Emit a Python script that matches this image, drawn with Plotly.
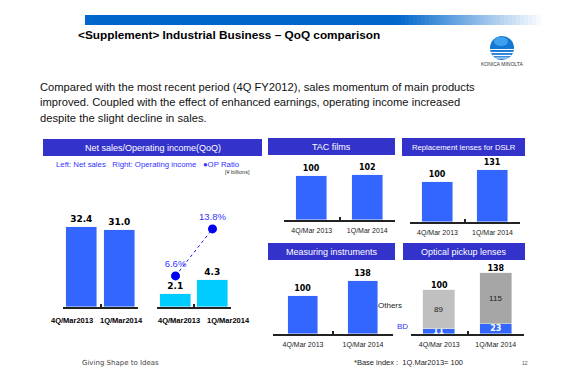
import plotly.graph_objects as go

W, H = 562, 390
def px(x): return x / W
def py(y): return 1 - y / H

# ---------------- data ----------------
periods_main = ["4Q/Mar2013", "1Q/Mar2014"]
periods = ["4Q/Mar 2013", "1Q/Mar 2014"]
net_sales = [32.4, 31.0]
op_income = [2.1, 4.3]
op_ratio = [6.6, 13.8]
tac_films = [100, 102]
dslr_lenses = [100, 131]
measuring = [100, 138]
optical_bd = [11, 23]
optical_others = [89, 115]
optical_total = [100, 138]

BLUE = "#3366ff"
CYAN = "#00ccff"
HEAD = "#3333cc"
SANS = "Liberation Sans"
BOLDF = "DejaVu Sans"

fig = go.Figure()

def lbl(vals, fmt="{:.0f}"):
    return [fmt.format(v) for v in vals]

# Net sales
fig.add_bar(x=periods_main, y=net_sales, xaxis="x", yaxis="y", marker_color=BLUE, width=0.83,
            text=lbl(net_sales, "{:.1f}"), textposition="outside", cliponaxis=False,
            textfont=dict(family=BOLDF, size=9, color="black", weight="bold"))
# Operating income
fig.add_bar(x=periods_main, y=op_income, xaxis="x2", yaxis="y2", marker_color=CYAN, width=0.84,
            text=lbl(op_income, "{:.1f}"), textposition="outside", cliponaxis=False,
            textfont=dict(family=BOLDF, size=9, color="black", weight="bold"))
# OP ratio
fig.add_scatter(x=periods_main, y=op_ratio, xaxis="x2", yaxis="y3", mode="lines+markers+text",
                line=dict(color="#1a1aee", width=1, dash="dot"),
                marker=dict(color="#0000ee", size=9),
                text=[f"{v:.1f}%" for v in op_ratio], textposition="top center",
                textfont=dict(family=SANS, size=9.5, color="#3333ff"), cliponaxis=False)
# TAC films
fig.add_bar(x=periods, y=tac_films, xaxis="x4", yaxis="y4", marker_color=BLUE, width=0.56,
            text=lbl(tac_films), textposition="outside", cliponaxis=False,
            textfont=dict(family=BOLDF, size=8, color="black", weight="bold"))
# DSLR
fig.add_bar(x=periods, y=dslr_lenses, xaxis="x5", yaxis="y5", marker_color=BLUE, width=0.56,
            text=lbl(dslr_lenses), textposition="outside", cliponaxis=False,
            textfont=dict(family=BOLDF, size=8, color="black", weight="bold"))
# Measuring
fig.add_bar(x=periods, y=measuring, xaxis="x6", yaxis="y6", marker_color=BLUE, width=0.51,
            text=lbl(measuring), textposition="outside", cliponaxis=False,
            textfont=dict(family=BOLDF, size=8, color="black", weight="bold"))
# Optical pickup (stacked)
fig.add_bar(x=periods, y=optical_bd, xaxis="x7", yaxis="y7", marker_color=BLUE, width=0.57,
            text=lbl(optical_bd), textposition="inside", insidetextanchor="middle",
            constraintext="none", cliponaxis=False,
            textfont=dict(family=BOLDF, size=8, color="white", weight="bold"))
fig.add_bar(x=periods, y=optical_others, xaxis="x7", yaxis="y7",
            marker_color=["#c0c0c0", "#a6a6a6"], width=0.57,
            text=lbl(optical_others), textposition="inside", insidetextanchor="middle",
            constraintext="none", cliponaxis=False,
            textfont=dict(family=SANS, size=8, color="#222222"))
fig.add_scatter(x=periods, y=optical_total, xaxis="x7", yaxis="y7", mode="text",
                text=lbl(optical_total), textposition="top center", cliponaxis=False,
                textfont=dict(family=BOLDF, size=8, color="black", weight="bold"))

# ---------------- axes ----------------
def xax(x0, x1, anchor, font, standoff, showlabels=True):
    return dict(domain=[px(x0), px(x1)], anchor=anchor, type="category", range=[-0.5, 1.5],
                showline=True, linecolor="#222222", linewidth=1.5, showgrid=False, zeroline=False,
                ticks="inside", tickson="boundaries", ticklen=3, tickwidth=1.5, tickcolor="#222222",
                tickangle=0, tickfont=font, ticklabelstandoff=standoff, fixedrange=True,
                showticklabels=showlabels)

def yax(ytop, ybot, anchor, rng, **kw):
    d = dict(domain=[py(ybot), py(ytop)], anchor=anchor, range=rng, visible=False,
             showgrid=False, zeroline=False, fixedrange=True)
    d.update(kw)
    return d

small_font = dict(family=SANS, size=7, color="#222222")

layout = dict(
    xaxis=xax(63, 138, "y", small_font, 5, showlabels=False),
    yaxis=yax(190, 307, "x", [0, 47.4]),
    xaxis2=xax(157, 231, "y2", small_font, 5, showlabels=False),
    yaxis2=yax(190, 307, "x2", [0, 18.3]),
    yaxis3=dict(domain=[py(307), py(190)], anchor="x2", overlaying="y2", range=[1.84, 19.76],
                visible=False, showgrid=False, zeroline=False),
    xaxis4=xax(284, 395, "y4", small_font, 3),
    yaxis4=yax(165, 220, "x4", [0, 125]),
    xaxis5=xax(410, 520, "y5", small_font, 3),
    yaxis5=yax(165, 222, "x5", [0, 144]),
    xaxis6=xax(273, 393, "y6", small_font, 3),
    yaxis6=yax(270, 334, "x6", [0, 168]),
    xaxis7=xax(411, 524, "y7", small_font, 3),
    yaxis7=yax(270, 334, "x7", [0, 145]),
)

# ---------------- shapes ----------------
shapes = []
shapes.append(dict(type="rect", xref="paper", yref="paper", x0=px(85), x1=px(398),
                   y0=py(25), y1=py(15), fillcolor="#0066cc", line_width=0, layer="below"))
steps = 36
c0 = (0, 102, 204); c1 = (250, 252, 255)
for i in range(steps):
    t = (i + 0.5) / steps
    col = tuple(int(c0[k] + (c1[k] - c0[k]) * t) for k in range(3))
    xa = 397 + (540 - 397) * i / steps
    xb = 397 + (540 - 397) * (i + 1) / steps + 0.6
    shapes.append(dict(type="rect", xref="paper", yref="paper", x0=px(xa), x1=px(xb),
                       y0=py(25), y1=py(15), fillcolor="rgb(%d,%d,%d)" % col,
                       line_width=0, layer="below"))

# logo
cx, cy, r = 502, 48, 12
shapes.append(dict(type="circle", xref="paper", yref="paper", x0=px(cx - r), x1=px(cx + r),
                   y0=py(cy + r), y1=py(cy - r), fillcolor="#1477d4", line_width=0))
shapes.append(dict(type="circle", xref="paper", yref="paper", x0=px(cx - 8), x1=px(cx + 6),
                   y0=py(cy - 2), y1=py(cy - 11), fillcolor="#3fa0ee", line_width=0))
for dy, lw in [(1.5, 1.0), (4.5, 1.2), (7.5, 1.3), (10, 1.0)]:
    hw = max((r * r - dy * dy), 0) ** 0.5
    shapes.append(dict(type="line", xref="paper", yref="paper", x0=px(cx - hw), x1=px(cx + hw),
                       y0=py(cy + dy), y1=py(cy + dy), line=dict(color="white", width=lw)))

headers = [
    ("Net sales/Operating income(QoQ)", 43, 262, 139, 156, 9),
    ("TAC films", 268, 395, 138, 155, 9),
    ("Replacement lenses for DSLR", 402, 525, 138, 156, 7.7),
    ("Measuring instruments", 268, 395, 243, 260, 9),
    ("Optical pickup lenses", 403, 525, 243, 260, 9),
]
annotations = []
for text, x0, x1, y0, y1, fs in headers:
    shapes.append(dict(type="rect", xref="paper", yref="paper", x0=px(x0), x1=px(x1),
                       y0=py(y1), y1=py(y0), fillcolor=HEAD, line_width=0, layer="below"))
    annotations.append(dict(text=text, x=px((x0 + x1) / 2), y=py((y0 + y1) / 2),
                            xanchor="center", yanchor="middle", xref="paper", yref="paper",
                            showarrow=False, font=dict(family=SANS, size=fs, color="white")))

# category labels of the left panel (offset as in the slide)
cat_font = dict(family=SANS, size=7.5, color="black", weight="bold")
for axname, shifts in [("x", [-10, 2]), ("x2", [3, 16])]:
    for cat, sh in zip(periods_main, shifts):
        annotations.append(dict(text=cat, x=cat, xref=axname, xshift=sh, y=py(320), yref="paper",
                                xanchor="center", yanchor="middle", showarrow=False,
                                font=cat_font))

def note(text, x, y, size, color="black", family=SANS, xanchor="left", weight="normal"):
    if xanchor == "left":
        x -= 3
    annotations.append(dict(text=text, x=px(x), y=py(y), xanchor=xanchor, yanchor="middle",
                            xref="paper", yref="paper", showarrow=False,
                            font=dict(family=family, size=size, color=color, weight=weight)))

note("&lt;Supplement&gt; Industrial Business – QoQ comparison", 79, 35, 11.8, "black",
     SANS, weight="bold")
note("KONICA MINOLTA", 502, 64, 5, "#333333", SANS, xanchor="center")
note("Compared with the most recent period (4Q FY2012), sales momentum of main products",
     41, 87, 11.2, "#111111")
note("improved. Coupled with the effect of enhanced earnings, operating income increased",
     41, 102.5, 11.2, "#111111")
note("despite the slight decline in sales.", 41, 118, 11.2, "#111111")
note("Left: Net sales   Right: Operating income   ●OP Ratio", 57, 164, 7.8, "#3333ff")
note("[¥ billions]", 252, 171.5, 5.5, "#333333", xanchor="right")
note("Others", 390, 305, 8, "#222222", xanchor="center")
note("BD", 402, 326, 8, "#3333ff", xanchor="center")
note("Giving Shape to Ideas", 83, 363, 7, "#444444", BOLDF)
note("*Base index :  1Q.Mar2013= 100", 355, 362, 7.5, "#222222")
note("12", 523, 363, 5, "#555555")

fig.update_layout(
    width=W, height=H, margin=dict(l=0, r=0, t=0, b=0),
    paper_bgcolor="white", plot_bgcolor="rgba(0,0,0,0)",
    showlegend=False, barmode="stack", bargap=0,
    shapes=shapes, annotations=annotations,
    font=dict(family=SANS),
    **layout,
)

fig.write_html("out.html", config={"displayModeBar": False},
               post_script="document.body.style.margin='0';"
                           "document.body.style.overflow='hidden';"
                           "document.documentElement.style.overflow='hidden';")
